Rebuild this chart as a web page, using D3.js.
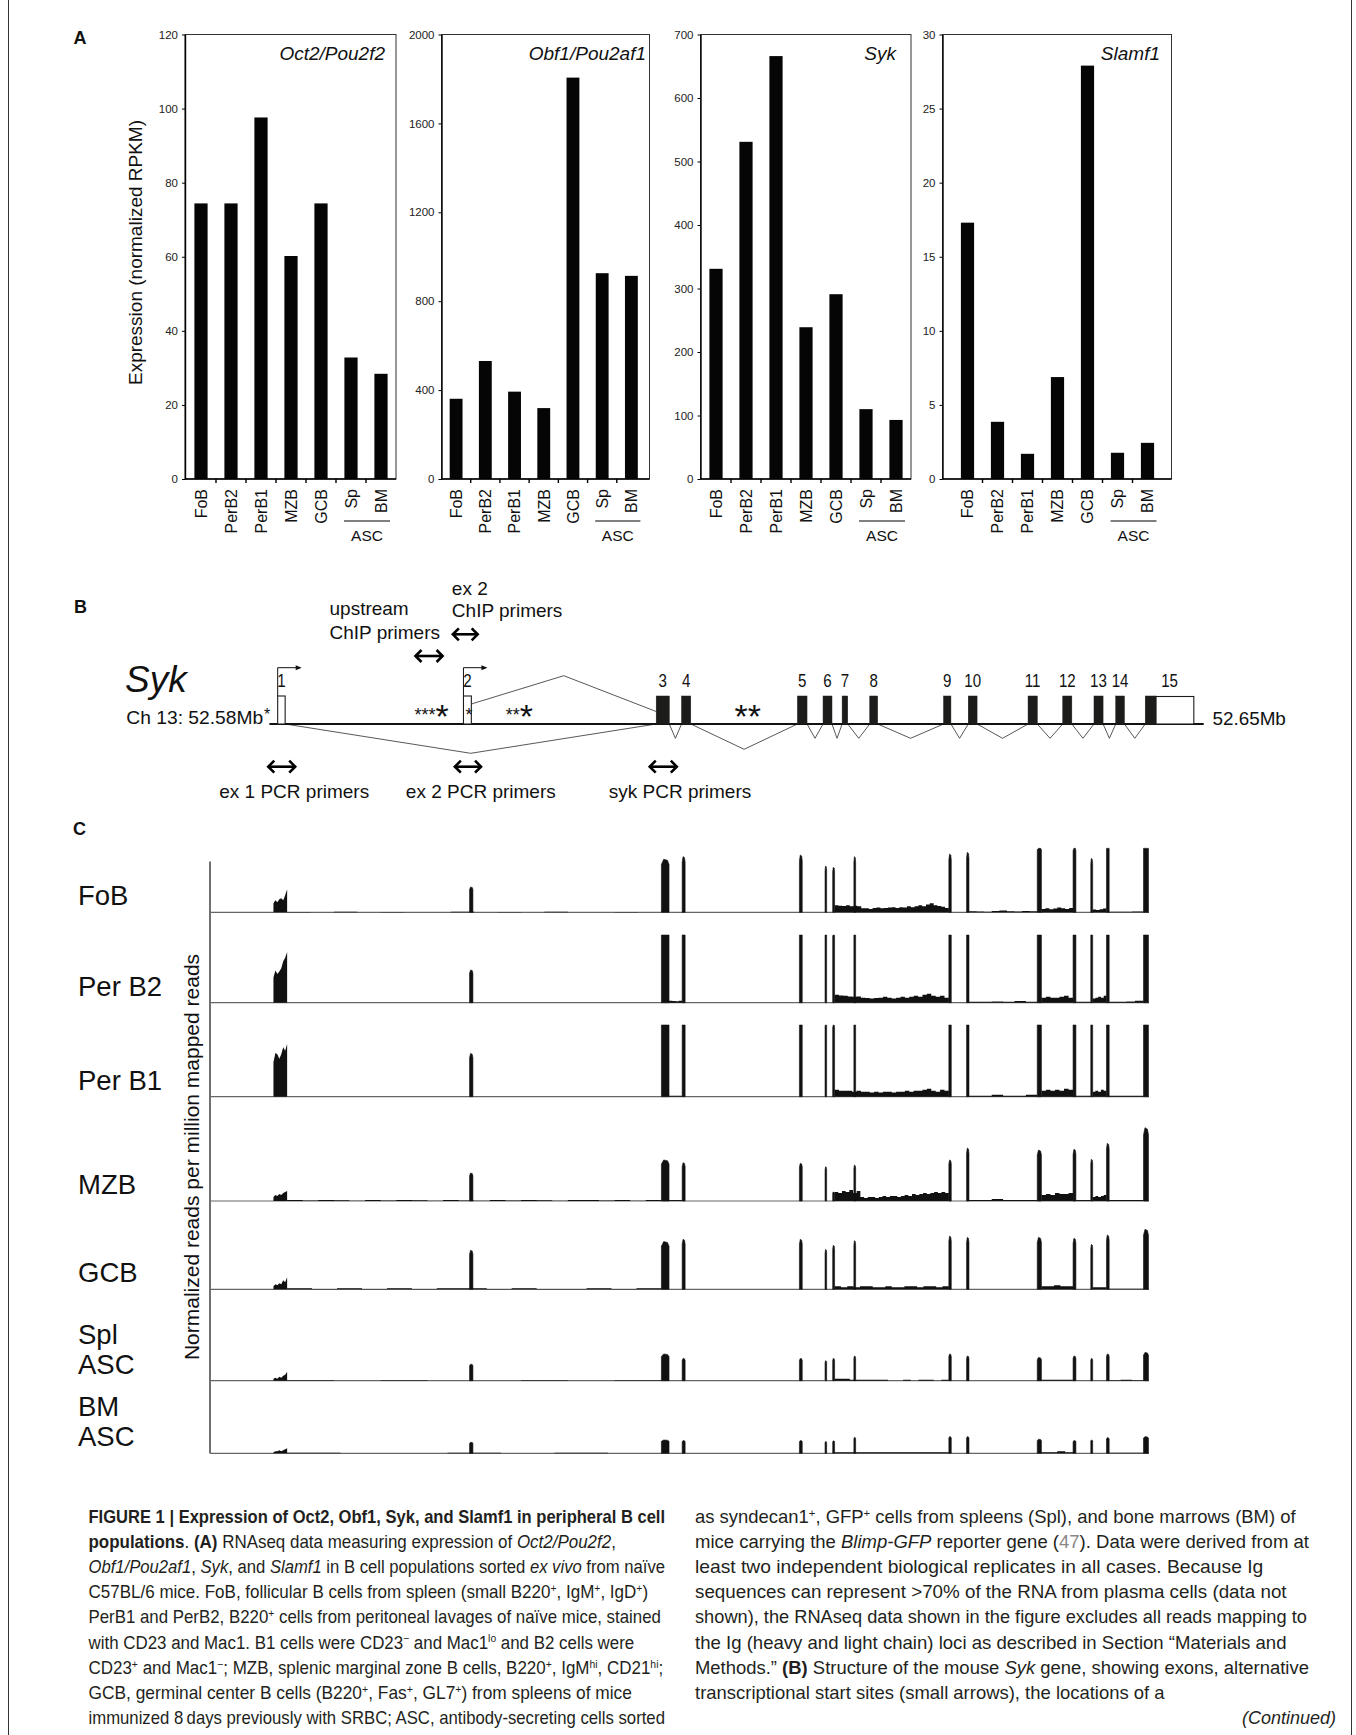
<!DOCTYPE html>
<html><head><meta charset="utf-8">
<script src="https://cdn.jsdelivr.net/npm/d3@7/dist/d3.min.js"></script>
<style>
html,body{margin:0;padding:0;background:#fff;}
svg{display:block;}
</style></head>
<body>
<svg id="fig" width="1356" height="1735" xmlns="http://www.w3.org/2000/svg"></svg>
<script>
// ================= DATA =================
// Panel A
const categories = ["FoB","PerB2","PerB1","MZB","GCB","Sp","BM"];
const ascGroupLabel = "ASC";
const geneTitles = ["Oct2/Pou2f2","Obf1/Pou2af1","Syk","Slamf1"];
const oct2Values   = [74.4, 74.4, 97.6, 60.2, 74.4, 32.8, 28.4];
const obf1Values   = [361, 531, 393, 319, 1806, 926, 914];
const sykValues    = [331, 531, 666, 239, 291, 110, 93];
const slamf1Values = [17.3, 3.86, 1.70, 6.88, 27.9, 1.77, 2.44];
const oct2Ticks   = [0,20,40,60,80,100,120];
const obf1Ticks   = [0,400,800,1200,1600,2000];
const sykTicks    = [0,100,200,300,400,500,600,700];
const slamf1Ticks = [0,5,10,15,20,25,30];
const yLabelA = "Expression (normalized RPKM)";

// Panel B (schematic Syk gene, kb from 52.58 Mb)
const exonNames   = ["1","2","3","4","5","6","7","8","9","10","11","12","13","14","15"];
const exonStartKb = [0.62,14.54,28.98,30.88,39.56,41.48,42.91,44.98,50.51,52.36,56.84,59.44,61.78,63.41,65.62];
const exonEndKb   = [1.18,15.13,29.96,31.57,40.28,42.15,43.33,45.57,51.06,53.02,57.53,60.12,62.46,64.06,66.43];
const exonCoding  = [false,false,true,true,true,true,true,true,true,true,true,true,true,true,true];
const utrEndKb = 69.26;
const geneSpanKb = [0, 70];
const geneStartLabel = "Ch 13: 52.58Mb";
const geneEndLabel = "52.65Mb";
// splice links: [fromExon, toExon, kind]
const spliceLinks = [[1,2,"up"],[0,2,"long"],[2,3,"short"],[3,4,"mid"],[4,5,"short"],[5,6,"short"],[6,7,"short"],
  [7,8,"short"],[8,9,"short"],[9,10,"short"],[10,11,"short"],[11,12,"short"],[12,13,"short"],[13,14,"short"]];
const primerLabels  = [["upstream","ChIP primers"],["ex 2","ChIP primers"],["ex 1 PCR primers"],["ex 2 PCR primers"],["syk PCR primers"]];
const primerStartKb = [10.87, 13.67, -0.16, 13.82, 28.42];
const primerEndKb   = [13.05, 15.68, 2.01, 15.93, 30.60];
const starGroups = [{kb:10.87, small:"***", big:"*"},{kb:14.69, small:"*", big:""},{kb:17.70, small:"**", big:"*"},{kb:34.85, small:"", big:"**"}];

// Panel C (RNAseq coverage tracks)
const trackNames = [["FoB"],["Per B2"],["Per B1"],["MZB"],["GCB"],["Spl","ASC"],["BM","ASC"]];
const yLabelC = "Normalized reads per million mapped reads";
const trackExonStart = [4.73,19.35,33.65,35.20,43.94,45.85,46.42,48.00,55.08,56.40,61.67,64.34,65.66,66.83,69.59];
const trackExonEnd   = [5.75,19.60,34.22,35.42,44.15,45.97,46.56,48.13,55.26,56.58,61.98,64.55,65.80,67.03,69.96];
// exon-1 region coverage profiles (left to right)
const exon1Profiles = [
  [7.5,10,8.3,10.8,11.7,10,14.2,19.2],
  [21,26.8,23.9,25.9,28.8,34.5,37.4,42.2],
  [28.8,36.5,35.4,31.6,35.4,41.2,38.3,44],
  [3.3,5,4.2,5.8,5,6.7,7.5,8.3],
  [2.5,4.2,3.3,5,4.2,7.5,5.8,10],
  [1.7,2.5,1.7,3.3,2.5,4.2,5,7.5],
  [0.8,1.7,1.7,2.5,1.7,2.5,3.3,4.2]
];
// exon 2..15 peak coverage
const peakHeights = [
  [21.1,44.2,46.4,47.8,38.6,37.5,46.4,48.6,50,58,57,45,60,62],
  [27.3,75,72,68,64,62,70,78,74,80,78,66,82,90],
  [36.1,80,76,70,66,64,74,82,78,85,82,70,86,95],
  [23.3,34.2,31.9,31.4,28.6,7.5,30,34.2,44.2,42.5,43.1,34.8,48.1,61.1],
  [32.5,39.8,41.7,41.7,33.3,36.7,40.6,44.4,43.3,43.3,42.5,37.5,45.3,50],
  [13.8,22.3,18.6,18.6,16.7,18.6,20.6,22.3,20.6,19.4,20.6,18.6,22.3,23.6],
  [9.2,11.1,10.6,10.6,9.8,10.4,13.3,13.9,13.9,11.7,10.6,11.1,13.1,13.9]
];
const trackViewMax = [53.3, 56.4, 59.75, 62, 50, 23.6, 13.9];
// intronic coverage segments: [startKb, endKb, values]
const fobIntrons = [
  [46.56,55.08,[5.8,5.4,5.2,5.8,5.0,5.4,5.0,3.4,3.3,2.8,3.5,4.0,3.4,3.5,4.1,4.2,3.5,4.3,4.0,5.0,4.3,5.0,5.8,5.0,6.6,7.5,5.8,5.2,4.6,3.5]],
  [56.58,61.67,[0.8,0.6,0.4,1.0,1.4,0.8,0.6,1.0,0.8]],
  [61.98,64.34,[2.8,3.4,2.6,3.2,4.0,3.4,2.8,3.6]],
  [65.80,66.83,[2.4,2.0,2.6,3.2]],
  [67.03,69.59,[0.5,0.4,0.6]],
  [5.75,33.65,[0.3,0,0.4,0,0.3,0,0,0.4,0,0.3,0,0.4,0,0,0.3,0]]
];
const perB2Introns = [
  [34.22,35.20,[1.6,1.4,1.2,1.6]],
  [46.56,55.08,[6.6,6.0,5.8,5.2,5.0,5.2,4.2,4.0,3.4,4.0,4.2,5.0,4.2,3.6,4.2,5.0,4.2,5.0,5.8,5.0,6.6,7.4,5.8,5.0,5.8,4.2]],
  [56.58,61.67,[0.8,0.8,1.0,0.8,1.4,0.8]],
  [61.98,64.34,[4.2,5.0,4.2,4.2,5.0,5.8,4.2]],
  [64.55,65.66,[0.8,0.8]],
  [65.80,66.83,[3.4,4.2,5.0,4.2,5.8]],
  [67.03,69.59,[0.8,0.8,1.0,1.6]]
];
const perB1Introns = [
  [34.22,35.20,[0.8,0.8,0.8]],
  [46.56,55.08,[5.8,5.0,5.0,5.0,4.2,5.0,4.2,4.2,3.4,4.2,3.4,4.2,4.2,3.4,4.2,4.2,5.0,4.2,5.0,5.0,5.8,6.6,5.0,4.2,5.8,5.0]],
  [56.58,61.67,[0.8,0.8,1.6,0.8,0.8,1.6]],
  [61.98,64.34,[5.0,5.8,5.0,5.8,5.0,6.6,5.8]],
  [64.55,65.66,[0.8]],
  [65.80,66.83,[4.2,5.0,4.2,5.8,5.0]],
  [67.03,69.59,[0.8,0.8,0.8,0.8]]
];
const mzbIntrons = [
  [5.75,33.65,[0.8,0.4,0.8,0.6,0.3,0.8,0.4,0.8,0.6,0.3,0.8,0.4,0.3,0.8,0.4,0.8,0.6,0.3,0.8,0.8,0.4,0.8,0.3,0.8]],
  [34.22,35.20,[0.8]],
  [46.56,55.08,[7.5,6.6,8.3,7.5,9.2,6.6,8.3,3.4,2.5,3.4,3.4,2.5,3.4,4.2,3.4,4.2,4.2,3.4,4.2,5.0,4.2,5.8,5.0,5.8,6.6,5.8,6.6,7.5,6.6,7.5,6.6]],
  [56.58,61.67,[0.8,0.8,1.6,0.8,0.8,0.8]],
  [61.98,64.34,[5.0,5.8,5.0,6.6,5.8,5.8,6.6]],
  [64.55,65.66,[0.8]],
  [65.80,66.83,[3.4,4.2,3.4,4.2,5.0]],
  [67.03,69.59,[0.8,0.8,0.8]]
];
const gcbIntrons = [
  [5.75,33.65,[0.8,0.3,0.8,0.3,0.8,0.3,0.8,0.8,0.3,0.8,0.3,0.3,0.8,0.3,0.8]],
  [46.56,55.08,[2.5,1.7,2.5,1.7,2.5,2.5,1.7,1.7,2.5,1.7,1.7,2.5,2.5,1.7,2.5,2.5,1.7,2.5]],
  [61.98,64.34,[2.5,2.5,3.4,2.5,2.5]],
  [65.80,66.83,[1.7,1.7,1.7]],
  [67.03,69.59,[0.4,0.4]]
];
const splAscIntrons = [
  [5.75,33.65,[0.4,0,0.4,0,0,0.4,0,0.4]],
  [46.56,55.08,[1.7,1.7,0.8,0.8,0.8,0.8,0.8,0,0,0.8,0,0.8,0.8,0,0.8]],
  [61.98,64.34,[0.8,0.8,0.8]],
  [67.03,69.59,[0.4,0.8,0.4]]
];
const bmAscIntrons = [
  [5.75,33.65,[0.4,0,0,0.4,0,0.4,0]],
  [46.56,55.08,[0.8,0.8,0.8,0.8,0.8,0.8,0.8,0.8,0.8,0.8]],
  [61.98,64.34,[0.8,0.8,1.7,0.8]],
  [67.03,69.59,[0.4,0.4]]
];
const trackIntrons = [fobIntrons, perB2Introns, perB1Introns, mzbIntrons, gcbIntrons, splAscIntrons, bmAscIntrons];

// Caption (segments: [text, style])
const captionLeft = [
  [["FIGURE 1 | Expression of Oct2, Obf1, Syk, and Slamf1 in peripheral B cell","b"]],
  [["populations","b"],[". ","n"],["(A)","b"],[" RNAseq data measuring expression of ","n"],["Oct2/Pou2f2","i"],[",","n"]],
  [["Obf1/Pou2af1","i"],[", ","n"],["Syk","i"],[", and ","n"],["Slamf1","i"],[" in B cell populations sorted ","n"],["ex vivo","i"],[" from naïve","n"]],
  [["C57BL/6 mice. FoB, follicular B cells from spleen (small B220","n"],["+","sup"],[", IgM","n"],["+","sup"],[", IgD","n"],["+","sup"],[")","n"]],
  [["PerB1 and PerB2, B220","n"],["+","sup"],[" cells from peritoneal lavages of naïve mice, stained","n"]],
  [["with CD23 and Mac1. B1 cells were CD23","n"],["−","sup"],[" and Mac1","n"],["lo","sup"],[" and B2 cells were","n"]],
  [["CD23","n"],["+","sup"],[" and Mac1","n"],["−","sup"],["; MZB, splenic marginal zone B cells, B220","n"],["+","sup"],[", IgM","n"],["hi","sup"],[", CD21","n"],["hi","sup"],[";","n"]],
  [["GCB, germinal center B cells (B220","n"],["+","sup"],[", Fas","n"],["+","sup"],[", GL7","n"],["+","sup"],[") from spleens of mice","n"]],
  [["immunized 8\u2009days previously with SRBC; ASC, antibody-secreting cells sorted","n"]]
];
const captionRight = [
  [["as syndecan1","n"],["+","sup"],[", GFP","n"],["+","sup"],[" cells from spleens (Spl), and bone marrows (BM) of","n"]],
  [["mice carrying the ","n"],["Blimp-GFP","i"],[" reporter gene (","n"],["47","gray"],["). Data were derived from at","n"]],
  [["least two independent biological replicates in all cases. Because Ig","n"]],
  [["sequences can represent >70% of the RNA from plasma cells (data not","n"]],
  [["shown), the RNAseq data shown in the figure excludes all reads mapping to","n"]],
  [["the Ig (heavy and light chain) loci as described in Section \u201cMaterials and","n"]],
  [["Methods.\u201d ","n"],["(B)","b"],[" Structure of the mouse ","n"],["Syk","i"],[" gene, showing exons, alternative","n"]],
  [["transcriptional start sites (small arrows), the locations of a","n"]]
];
const continuedText = "(Continued)";

// ================= LAYOUT / STYLE =================
const FF = '"Liberation Sans", Arial, Helvetica, sans-serif';
const FFN = '"Liberation Sans Narrow", "Arial Narrow", "Liberation Sans", Arial, sans-serif';
const INK = "#111";
const svg = d3.select("#fig");
svg.append("rect").attr("width",1356).attr("height",1735).attr("fill","#fff");
[8.5, 1351.5].forEach(xv => svg.append("line").attr("x1",xv).attr("x2",xv).attr("y1",0).attr("y2",1735)
  .attr("stroke","#333").attr("stroke-width",1));

function panelLetter(t, x, y){
  svg.append("text").attr("x",x).attr("y",y).text(t).attr("font-family",FF).attr("font-weight","bold")
    .attr("font-size",18).attr("fill",INK);
}
function fitWidth(t, x, yv, width){
  t.attr("transform",`translate(${x},${yv})`);
  const nat = t.node().getComputedTextLength();
  if (nat > 0) t.attr("transform",`translate(${x},${yv}) scale(${width/nat},1)`);
}

// ---------- Panel A ----------
panelLetter("A", 73.5, 43.5);
const pA = {top:34.5, bottom:479, labelTop:489, ascLineY:521, ascTextY:540.5, titleY:59.5};
const boxes = [
  {left:185,   right:396,   bandL:186,   bandR:396,   titleRight:385},
  {left:441.5, right:649.5, bandL:441.5, bandR:646,   titleRight:646},
  {left:700.5, right:911,   bandL:701,   bandR:911,   titleRight:896},
  {left:942.5, right:1171.5,bandL:952.5, bandR:1162.5,titleRight:1160}
];
const seriesA = [oct2Values, obf1Values, sykValues, slamf1Values];
const ticksA = [oct2Ticks, obf1Ticks, sykTicks, slamf1Ticks];

seriesA.forEach((vals, ci) => {
  const b = boxes[ci];
  const ticks = ticksA[ci];
  const g = svg.append("g");
  const y = d3.scaleLinear().domain([0, d3.max(ticks)]).range([pA.bottom, pA.top]);
  const x = d3.scaleBand().domain(categories).range([b.bandL, b.bandR]).paddingInner(0.56).paddingOuter(0.28);
  g.append("rect").attr("x",b.left).attr("y",pA.top).attr("width",b.right-b.left).attr("height",pA.bottom-pA.top)
    .attr("fill","none").attr("stroke","#333").attr("stroke-width",1);
  g.selectAll("rect.bar").data(vals).join("rect").attr("class","bar")
    .attr("x",(d,i)=>x(categories[i])).attr("y",d=>y(d))
    .attr("width",x.bandwidth()).attr("height",d=>pA.bottom-y(d)).attr("fill","#050505");
  const ax = g.append("g").attr("transform",`translate(${b.left},0)`)
    .call(d3.axisLeft(y).tickValues(ticks).tickSize(3).tickSizeOuter(0).tickPadding(4).tickFormat(d3.format("d")));
  ax.select(".domain").attr("stroke","#000").attr("stroke-width",1.4);
  ax.selectAll(".tick line").attr("stroke","#000");
  ax.selectAll("text").attr("font-family",FF).attr("font-size",11.5).attr("fill","#222");
  g.append("line").attr("x1",b.left).attr("x2",b.right).attr("y1",pA.bottom).attr("y2",pA.bottom)
    .attr("stroke","#000").attr("stroke-width",1.6);
  categories.slice(1).forEach(c => {
    const xb = x(c) - x.step()*x.paddingInner()/2;
    g.append("line").attr("x1",xb).attr("x2",xb).attr("y1",pA.bottom).attr("y2",pA.bottom+4)
      .attr("stroke","#000").attr("stroke-width",1.4);
  });
  g.selectAll("text.cat").data(categories).join("text").attr("class","cat")
    .attr("transform",d=>`translate(${x(d)+x.bandwidth()/2},${pA.labelTop}) rotate(-90)`)
    .attr("text-anchor","end").attr("dy","0.36em").text(d=>d)
    .attr("font-family",FF).attr("font-size",16).attr("fill",INK);
  const sx = x("Sp") + x.bandwidth()/2 - 7, ex = x("BM") + x.bandwidth()/2 + 9;
  g.append("line").attr("x1",sx).attr("x2",ex).attr("y1",pA.ascLineY).attr("y2",pA.ascLineY)
    .attr("stroke","#000").attr("stroke-width",1);
  g.append("text").attr("x",(sx+ex)/2).attr("y",pA.ascTextY).attr("text-anchor","middle").text(ascGroupLabel)
    .attr("font-family",FF).attr("font-size",15.5).attr("fill",INK);
  g.append("text").attr("x",b.titleRight).attr("y",pA.titleY).attr("text-anchor","end").text(geneTitles[ci])
    .attr("font-family",FF).attr("font-style","italic").attr("font-size",19).attr("fill",INK);
});
svg.append("text").attr("transform","translate(135,252.5) rotate(-90)").attr("text-anchor","middle")
  .attr("dy","0.36em").text(yLabelA).attr("font-family",FF).attr("font-size",19).attr("fill",INK);

// ---------- Panel B ----------
panelLetter("B", 74, 613);
const pB = {lineY:724, exonTop:696, tssY:667.7, numY:687.3, upRowY:656, upRow2Y:634.3, lowRowY:766.7, lowTextY:798.3};
const xB = d3.scaleLinear().domain(geneSpanKb).range([269.4, 1203.7]);
const gB = svg.append("g");
spliceLinks.forEach(([a, c, kind]) => {
  const x1 = xB(exonEndKb[a]), x2 = xB(exonStartKb[c]), xm = (x1+x2)/2;
  let p;
  if (kind === "up") p = `M${x1},704 L${xm},675.7 L${x2},711.5`;
  else {
    const dep = kind === "long" ? 753.3 : (kind === "mid" ? 749.3 : 738.3);
    p = `M${x1},${pB.lineY} L${xm},${dep} L${x2},${pB.lineY}`;
  }
  gB.append("path").attr("d",p).attr("fill","none").attr("stroke","#444").attr("stroke-width",0.9);
});
gB.append("line").attr("x1",xB(geneSpanKb[0])).attr("x2",xB(geneSpanKb[1])).attr("y1",pB.lineY).attr("y2",pB.lineY)
  .attr("stroke","#111").attr("stroke-width",2.2);
exonNames.forEach((nm, i) => {
  const x0 = xB(exonStartKb[i]), x1 = xB(exonEndKb[i]);
  gB.append("rect").attr("x",x0).attr("y",pB.exonTop).attr("width",x1-x0).attr("height",pB.lineY-pB.exonTop)
    .attr("fill",exonCoding[i] ? "#1c1c1a" : "#fff").attr("stroke","#1c1c1a").attr("stroke-width",exonCoding[i]?0.5:1.1);
  let cx = (x0+x1)/2;
  if (i === exonNames.length-1) {
    const x2 = xB(utrEndKb);
    gB.append("rect").attr("x",x1).attr("y",pB.exonTop+0.5).attr("width",x2-x1).attr("height",pB.lineY-pB.exonTop-0.5)
      .attr("fill","#fff").attr("stroke","#1c1c1a").attr("stroke-width",1.1);
    cx = (x0+x2)/2;
  }
  gB.append("text").attr("transform",`translate(${cx},${pB.numY}) scale(0.84,1)`).attr("text-anchor","middle").text(nm)
    .attr("font-family",FF).attr("font-size",18).attr("fill",INK);
});
[0,1].forEach(i => {
  const x0 = xB(exonStartKb[i]);
  gB.append("path").attr("d",`M${x0},${pB.exonTop} V${pB.tssY} H${x0+22}`).attr("fill","none")
    .attr("stroke","#111").attr("stroke-width",1);
  gB.append("path").attr("d",`M${x0+24},${pB.tssY} l-6,-2.5 l0,5 z`).attr("fill","#111");
});
gB.append("text").attr("x",125).attr("y",692).text("Syk").attr("font-family",FF).attr("font-style","italic")
  .attr("font-size",37).attr("fill",INK);
fitWidth(gB.append("text").text(geneStartLabel).attr("font-family",FF).attr("font-size",18).attr("fill",INK), 126.3, pB.lineY, 137);
gB.append("text").attr("x",264).attr("y",720).text("*").attr("font-family",FF).attr("font-size",16).attr("fill",INK);
fitWidth(gB.append("text").text(geneEndLabel).attr("font-family",FF).attr("font-size",18).attr("fill",INK), 1212.4, pB.lineY+1, 73.5);
starGroups.forEach(s => {
  const t = gB.append("text").attr("x",xB(s.kb)).attr("y",721).attr("font-family",FF).attr("fill",INK);
  if (s.small) t.append("tspan").attr("font-size",18).text(s.small);
  if (s.big) t.append("tspan").attr("font-size",34).attr("dy",7).text(s.big);
});
function dblArrow(x1, x2, yv){
  gB.append("line").attr("x1",x1+1).attr("x2",x2-1).attr("y1",yv).attr("y2",yv).attr("stroke","#000").attr("stroke-width",2.6);
  gB.append("path").attr("d",`M${x1+7},${yv-6} L${x1+1},${yv} L${x1+7},${yv+6}`).attr("fill","none").attr("stroke","#000").attr("stroke-width",2.6);
  gB.append("path").attr("d",`M${x2-7},${yv-6} L${x2-1},${yv} L${x2-7},${yv+6}`).attr("fill","none").attr("stroke","#000").attr("stroke-width",2.6);
}
const primerRowY = [pB.upRowY, pB.upRow2Y, pB.lowRowY, pB.lowRowY, pB.lowRowY];
const PF = 19;
primerLabels.forEach((lab, i) => {
  const x1 = xB(primerStartKb[i]), x2 = xB(primerEndKb[i]);
  dblArrow(x1, x2, primerRowY[i]);
  if (i === 0) {
    gB.append("text").attr("x",329.5).attr("y",615).text(lab[0]).attr("font-family",FF).attr("font-size",PF).attr("fill",INK);
    gB.append("text").attr("x",329.5).attr("y",639.3).text(lab[1]).attr("font-family",FF).attr("font-size",PF).attr("fill",INK);
  } else if (i === 1) {
    gB.append("text").attr("x",x1).attr("y",595).text(lab[0]).attr("font-family",FF).attr("font-size",PF).attr("fill",INK);
    gB.append("text").attr("x",x1).attr("y",616.7).text(lab[1]).attr("font-family",FF).attr("font-size",PF).attr("fill",INK);
  } else {
    gB.append("text").attr("x",x1-(i===4?40:48)).attr("y",pB.lowTextY).text(lab[0]).attr("font-family",FF).attr("font-size",PF).attr("fill",INK);
  }
});

// ---------- Panel C ----------
panelLetter("C", 73, 835);
const trackBase = [912.3, 1002.7, 1096.7, 1201, 1289.3, 1380.7, 1453.3];
const xC = d3.scaleLinear().domain([0,70]).range([210,1149]);
const yC = d3.scaleLinear().domain([0,50]).range([0,60]);
const gC = svg.append("g");
gC.append("line").attr("x1",210).attr("x2",210).attr("y1",861.5).attr("y2",trackBase[6]).attr("stroke","#111").attr("stroke-width",1.2);
trackNames.forEach((names, t) => {
  const base = trackBase[t], vmax = trackViewMax[t];
  const area = d3.area().x(d=>xC(d[0])).y0(base).y1(d=>base - yC(Math.min(d[1], vmax)));
  gC.append("line").attr("x1",210).attr("x2",1149).attr("y1",base).attr("y2",base).attr("stroke","#666").attr("stroke-width",1.2);
  trackIntrons[t].forEach(([s, e, vals]) => {
    const n = vals.length, pts = [];
    vals.forEach((v, k) => {
      const xa = s + (e-s)*k/n, xb2 = s + (e-s)*(k+1)/n;
      pts.push([xa, v], [xb2, v]);
    });
    gC.append("path").datum(pts).attr("d",area).attr("fill","#111");
  });
  const p1 = exon1Profiles[t], s1 = trackExonStart[0], e1 = trackExonEnd[0];
  const pts1 = [[s1,0]].concat(p1.map((v,k)=>[s1+(e1-s1)*k/(p1.length-1), v])).concat([[e1,0]]);
  gC.append("path").datum(pts1).attr("d",area).attr("fill","#111");
  peakHeights[t].forEach((h, k) => {
    const s = trackExonStart[k+1], e = trackExonEnd[k+1], w = e - s;
    const pts = [[s,0],[s,h*0.9],[s+0.3*w,h],[e-0.2*w,h*0.98],[e,h*0.9],[e,0]];
    gC.append("path").datum(pts).attr("d",area).attr("fill","#111").attr("stroke","#111").attr("stroke-width",0.6);
  });
  names.forEach((nm, j) => {
    gC.append("text").attr("x",78).attr("y",base - 7 - (names.length-1-j)*30).text(nm)
      .attr("font-family",FF).attr("font-size",27.5).attr("fill",INK);
  });
});
svg.append("text").attr("transform","translate(191,1157) rotate(-90)").attr("text-anchor","middle")
  .attr("dy","0.36em").text(yLabelC).attr("font-family",FF).attr("font-size",21).attr("fill",INK);

// ---------- Caption ----------
const capBase = 1522.5, capStep = 25.2;
const leftWidths  = [577, 528, 577, 560, 573, 546, 575, 544, 577];
const rightWidths = [601, 614, 569, 592, 612, 592, 614, 470];
function captionLine(segs, x, yv, width){
  const t = svg.append("text").attr("font-family",FFN).attr("font-size",18).attr("fill","#231f20");
  segs.forEach(([txt, st]) => {
    const ts = t.append("tspan").text(txt);
    if (st === "b") ts.attr("font-weight","bold");
    if (st === "i") ts.attr("font-style","italic");
    if (st === "gray") ts.attr("fill","#888");
    if (st === "sup") ts.attr("font-size",11).attr("baseline-shift","super");
  });
  fitWidth(t, x, yv, width);
}
captionLeft.forEach((segs, i) => captionLine(segs, 88.5, capBase + i*capStep, leftWidths[i]));
captionRight.forEach((segs, i) => captionLine(segs, 695, capBase + i*capStep, rightWidths[i]));
svg.append("text").attr("x",1336).attr("y",capBase + 8*capStep).attr("text-anchor","end").text(continuedText)
  .attr("font-family",FFN).attr("font-style","italic").attr("font-size",18).attr("fill","#231f20");
</script>
</body></html>
